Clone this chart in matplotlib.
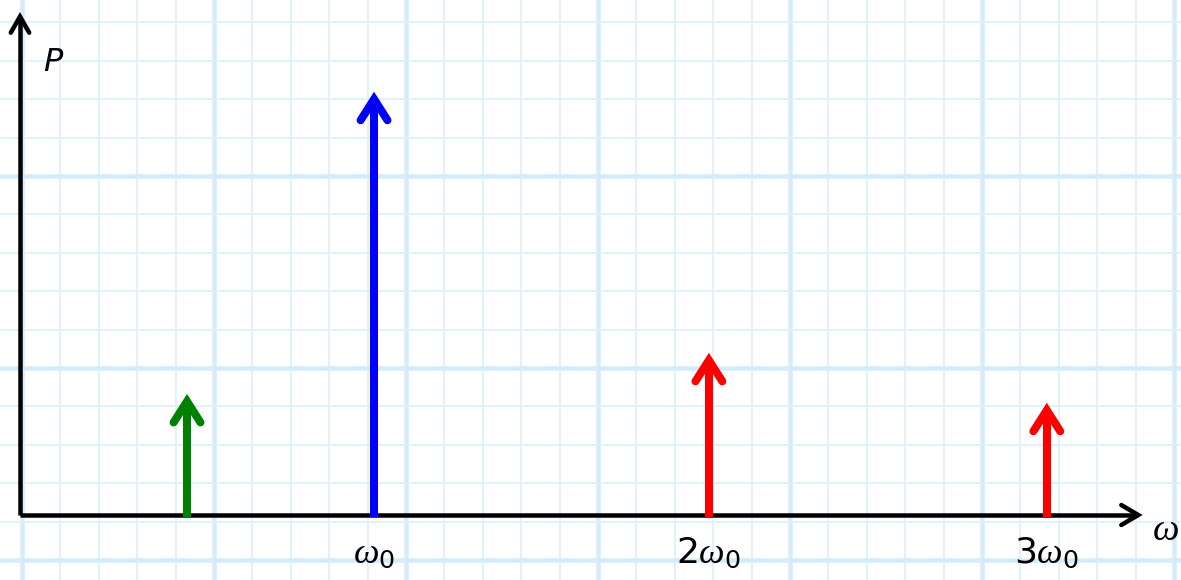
import numpy as np
import matplotlib
matplotlib.use('Agg')
import matplotlib.pyplot as plt

plt.rcParams['mathtext.fontset'] = 'custom'
plt.rcParams['mathtext.it'] = 'Liberation Serif:italic'
plt.rcParams['mathtext.rm'] = 'DejaVu Sans'

# spectral lines (grid units, 1 unit = one small square)
line_pos = [4.35, 9.22, 17.94, 26.74]
line_height = [3.15, 11.02, 4.22, 2.92]
line_color = ['green', 'blue', 'red', 'red']

# frequency labels under the axis
tick_pos = [9.22, 17.94, 26.74]
tick_text = [r'$\omega_0$', r'2$\omega_0$', r'3$\omega_0$']

PX = 38.4                      # pixels per grid unit
PT = 72.0 / 100.0              # points per pixel at dpi 100

fig = plt.figure(figsize=(11.81, 5.80), dpi=100)
ax = fig.add_axes([0, 0, 1, 1])
ax.set_xlim(-20 / PX, 1161 / PX)
ax.set_ylim(-65 / PX, 515 / PX)
ax.axis('off')

# squared paper
for k in range(-1, 32):
    x = 2 / PX + k
    major = (k % 5 == 0)
    ax.axvline(x, color='#d2ecfb' if major else '#dcf0fc',
               lw=(4.5 if major else 1.6) * PT, zorder=0)
for k in range(-1, 16):
    y = -45 / PX + k
    major = (k % 5 == 0)
    ax.axhline(y, color='#d2ecfb' if major else '#dcf0fc',
               lw=(4.5 if major else 1.6) * PT, zorder=0)


def chevron(x, y, dx, dy, half, length, lw, color):
    # open arrow head with vertex at (x, y) pointing along (dx, dy)
    nx, ny = -dy, dx
    xs = [x - dx * length + nx * half, x, x - dx * length - nx * half]
    ys = [y - dy * length + ny * half, y, y - dy * length - ny * half]
    ax.plot(xs, ys, color=color, lw=lw, solid_capstyle='round',
            solid_joinstyle='miter', zorder=3)


# axes
ax_lw = 4.5 * PT
y_top = 12.98
x_right = 29.12
ax.plot([0, 0], [0, y_top], color='black', lw=ax_lw, solid_capstyle='butt', zorder=3)
ax.plot([0, x_right], [0, 0], color='black', lw=ax_lw, solid_capstyle='butt', zorder=3)
chevron(0, y_top, 0, 1, 0.24, 0.42, ax_lw, 'black')
chevron(x_right, 0, 1, 0, 0.26, 0.44, ax_lw, 'black')

# spectral lines
st_lw = 8 * PT
miter = 0.19
for x, h, c in zip(line_pos, line_height, line_color):
    ax.plot([x, x], [-0.06, h - miter], color=c, lw=st_lw,
            solid_capstyle='butt', zorder=4)
    chevron(x, h - miter, 0, 1, 0.35, 0.55, st_lw, c)

for x, t in zip(tick_pos, tick_text):
    ax.text(x, -1.25, t, ha='center', va='baseline', fontsize=26, zorder=5)

ax.text(29.48, -0.65, r'$\omega$', ha='left', va='baseline', fontsize=27)
ax.text(0.6, 11.56, 'P', ha='left', va='baseline', fontsize=23,
        style='italic', family='DejaVu Sans')

plt.savefig('out.png', dpi=100)
plt.close()
